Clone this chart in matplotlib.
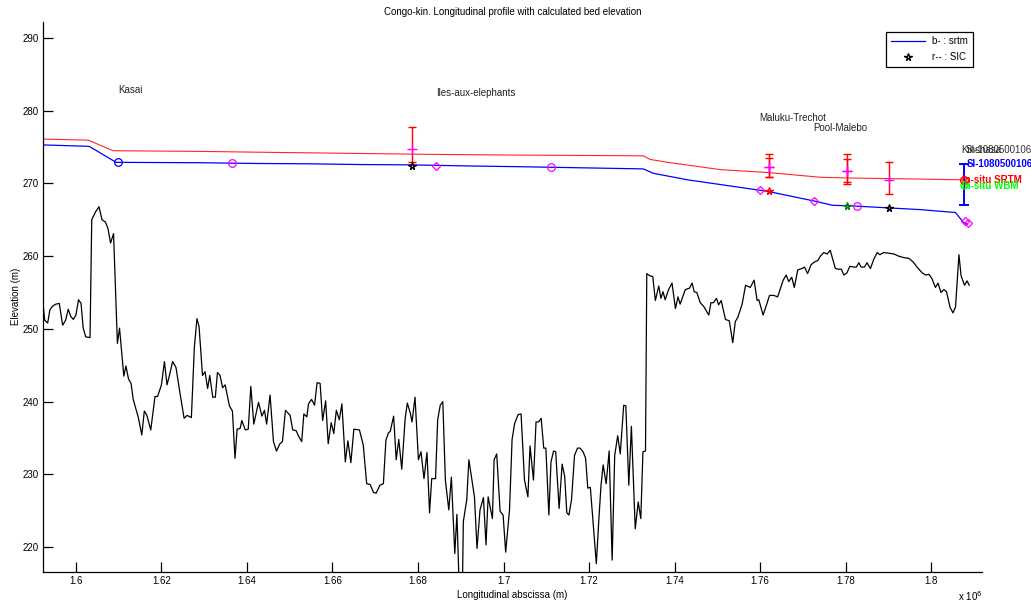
import numpy as np
import matplotlib
matplotlib.use('Agg')
import matplotlib.pyplot as plt
from matplotlib.lines import Line2D

plt.rcParams['font.family'] = ['Liberation Sans', 'DejaVu Sans']

# abscissa in units of 1e6 m, elevations in m
# calculated bed elevation (black), split in three reaches
bed_upstream = [
    (1.5923, 253.5), (1.5927, 251.2), (1.5934, 250.8), (1.5939, 252.6), (1.5945, 253.1),
    (1.5953, 253.4), (1.5961, 253.5), (1.5969, 250.5), (1.5976, 251.2), (1.5982, 252.7),
    (1.5988, 251.7), (1.5994, 251.3), (1.6000, 251.9), (1.6006, 254.0), (1.6012, 253.5),
    (1.6017, 250.1), (1.6023, 248.9), (1.6033, 248.8), (1.6037, 265.0), (1.6046, 266.1),
    (1.6054, 266.8), (1.6061, 265.0), (1.6069, 264.7), (1.6075, 263.8), (1.6081, 261.8),
    (1.6088, 263.1), (1.6097, 248.0), (1.6102, 250.1), (1.6108, 246.1), (1.6112, 243.5),
    (1.6117, 244.9), (1.6123, 243.1), (1.6129, 242.5), (1.6134, 240.3), (1.6146, 237.8),
    (1.6154, 235.4), (1.6160, 238.7), (1.6166, 238.1), (1.6175, 236.1), (1.6185, 240.7),
    (1.6191, 240.7), (1.6200, 242.3), (1.6207, 245.5), (1.6213, 242.3), (1.6220, 243.9),
    (1.6226, 245.5), (1.6234, 244.7), (1.6243, 241.3), (1.6253, 237.7), (1.6260, 238.1),
    (1.6270, 237.8), (1.6277, 247.5), (1.6283, 251.4), (1.6288, 250.3), (1.6296, 243.6),
    (1.6302, 244.1), (1.6308, 241.8), (1.6313, 243.6), (1.6320, 240.6), (1.6326, 240.6),
    (1.6331, 244.0), (1.6337, 243.6), (1.6343, 241.9), (1.6349, 242.3), (1.6359, 239.4),
    (1.6366, 238.7), (1.6372, 232.2), (1.6377, 236.2), (1.6384, 236.3), (1.6388, 237.4),
    (1.6396, 236.1), (1.6403, 236.2), (1.6409, 242.1), (1.6416, 236.9), (1.6427, 239.9),
    (1.6435, 238.0), (1.6441, 238.8), (1.6446, 236.9), (1.6454, 240.9), (1.6462, 234.5),
    (1.6469, 233.2), (1.6477, 234.2), (1.6483, 234.5), (1.6490, 238.8), (1.6501, 238.1),
    (1.6507, 236.1), (1.6515, 236.0), (1.6521, 235.2), (1.6528, 234.5), (1.6533, 238.3),
    (1.6540, 237.9), (1.6544, 239.7), (1.6551, 240.3), (1.6558, 239.5), (1.6564, 242.6),
    (1.6571, 242.5), (1.6577, 237.4), (1.6584, 240.1), (1.6590, 234.2), (1.6597, 237.1),
    (1.6603, 235.6), (1.6609, 238.8), (1.6616, 237.5), (1.6622, 239.7), (1.6630, 231.7),
    (1.6636, 234.6), (1.6643, 231.6), (1.6650, 236.2), (1.6663, 236.1),
]
bed_middle = [
    (1.6672, 234.0), (1.6680, 228.7), (1.6688, 228.6), (1.6696, 227.5), (1.6702, 227.4),
    (1.6711, 228.5), (1.6719, 228.7), (1.6725, 234.7), (1.6731, 235.7), (1.6735, 235.9),
    (1.6743, 238.0), (1.6749, 232.0), (1.6755, 234.8), (1.6762, 230.7), (1.6770, 237.7),
    (1.6775, 239.8), (1.6782, 238.4), (1.6786, 237.2), (1.6793, 240.6), (1.6801, 232.0),
    (1.6807, 233.1), (1.6814, 229.4), (1.6821, 233.0), (1.6827, 224.7), (1.6832, 229.4),
    (1.6841, 229.4), (1.6846, 237.5), (1.6852, 239.5), (1.6858, 240.0), (1.6864, 229.2),
    (1.6872, 225.1), (1.6878, 229.6), (1.6886, 219.1), (1.6891, 224.5), (1.6896, 215.0),
    (1.6904, 215.0), (1.6906, 223.5), (1.6914, 226.5), (1.6919, 232.0), (1.6926, 229.2),
    (1.6932, 226.9), (1.6938, 219.8), (1.6945, 225.1), (1.6953, 226.8), (1.6959, 220.3),
    (1.6964, 226.9), (1.6974, 223.9), (1.6978, 232.0), (1.6984, 232.8), (1.6992, 224.9),
    (1.6999, 224.4), (1.7005, 219.3), (1.7014, 225.1), (1.7020, 234.8), (1.7026, 237.0),
    (1.7034, 238.2), (1.7041, 238.3), (1.7049, 229.2), (1.7057, 226.9), (1.7062, 233.9),
    (1.7070, 229.2), (1.7076, 237.2), (1.7082, 237.2), (1.7088, 237.7), (1.7094, 233.6),
    (1.7099, 233.6), (1.7106, 224.4), (1.7111, 231.7), (1.7117, 233.2), (1.7122, 233.1),
    (1.7130, 225.3), (1.7137, 231.4), (1.7143, 229.7), (1.7148, 224.7), (1.7153, 224.4),
    (1.7159, 226.5), (1.7166, 232.6), (1.7173, 233.6), (1.7179, 233.6), (1.7186, 233.1),
    (1.7192, 232.2), (1.7197, 228.1), (1.7203, 228.2), (1.7209, 223.7), (1.7217, 217.7),
    (1.7223, 223.9), (1.7228, 228.5), (1.7233, 231.3), (1.7240, 228.7), (1.7247, 233.2),
    (1.7254, 218.2), (1.7260, 232.6), (1.7267, 235.3), (1.7273, 232.8), (1.7281, 239.5),
    (1.7286, 239.4), (1.7293, 228.5), (1.7299, 236.6), (1.7308, 222.5), (1.7315, 226.2),
    (1.7321, 223.9), (1.7326, 233.1), (1.7332, 233.2),
]
bed_downstream = [
    (1.7335, 257.6), (1.7342, 257.3), (1.7349, 257.2), (1.7355, 253.9), (1.7363, 255.9),
    (1.7368, 254.2), (1.7373, 255.1), (1.7378, 254.0), (1.7386, 255.4), (1.7394, 256.3),
    (1.7402, 252.8), (1.7408, 254.4), (1.7413, 253.4), (1.7425, 255.4), (1.7435, 255.6),
    (1.7441, 256.3), (1.7446, 255.1), (1.7452, 255.0), (1.7460, 253.6), (1.7468, 253.1),
    (1.7480, 251.9), (1.7485, 253.6), (1.7491, 253.6), (1.7498, 254.2), (1.7503, 253.3),
    (1.7509, 253.9), (1.7519, 251.3), (1.7528, 251.1), (1.7536, 248.1), (1.7542, 251.0),
    (1.7548, 251.6), (1.7558, 253.4), (1.7566, 256.0), (1.7577, 255.7), (1.7586, 256.7),
    (1.7593, 253.9), (1.7597, 254.0), (1.7607, 251.9), (1.7615, 253.3), (1.7622, 254.6),
    (1.7632, 254.6), (1.7641, 254.4), (1.7654, 256.7), (1.7661, 257.4), (1.7667, 256.5),
    (1.7674, 257.1), (1.7680, 255.7), (1.7688, 258.1), (1.7698, 258.3), (1.7704, 258.5),
    (1.7711, 257.6), (1.7719, 258.8), (1.7727, 259.2), (1.7735, 259.4), (1.7741, 260.0),
    (1.7749, 260.5), (1.7757, 260.3), (1.7764, 260.8), (1.7776, 258.3), (1.7784, 258.2),
    (1.7790, 258.2), (1.7796, 257.4), (1.7803, 257.7), (1.7810, 258.6), (1.7819, 258.5),
    (1.7825, 258.5), (1.7831, 259.1), (1.7836, 258.5), (1.7844, 258.5), (1.7850, 259.1),
    (1.7858, 258.3), (1.7866, 259.6), (1.7874, 260.5), (1.7880, 260.2), (1.7889, 260.5),
    (1.7901, 260.4), (1.7913, 260.3), (1.7924, 260.0), (1.7936, 259.8), (1.7948, 259.7),
    (1.7958, 259.2), (1.7967, 258.5), (1.7979, 257.7), (1.7987, 257.4), (1.7995, 257.5),
    (1.8002, 256.9), (1.8010, 255.7), (1.8016, 256.3), (1.8023, 255.0), (1.8030, 255.4),
    (1.8036, 255.1), (1.8044, 253.0), (1.8051, 252.2), (1.8057, 253.0), (1.8065, 260.2),
    (1.8070, 257.3), (1.8078, 256.0), (1.8084, 256.6), (1.8089, 256.0),
]

# srtm water surface (blue)
srtm_x = [1.5923, 1.6031, 1.6094, 1.6290, 1.6414, 1.6541, 1.6665, 1.6789, 1.6922,
          1.7039, 1.7327, 1.7350, 1.7430, 1.7619, 1.7725, 1.7769, 1.7818, 1.7975,
          1.8057, 1.8076, 1.8085]
srtm_z = [275.3, 275.1, 272.9, 272.85, 272.75, 272.7, 272.6, 272.55, 272.4,
          272.3, 272.0, 271.4, 270.5, 268.9, 267.6, 267.0, 266.9, 266.4,
          266.0, 264.6, 264.4]

# upper surface (red)
upper_x = [1.5923, 1.6029, 1.6087, 1.6300, 1.6420, 1.6560, 1.6690, 1.6830, 1.7039,
           1.7327, 1.7343, 1.7390, 1.7507, 1.7619, 1.7741, 1.7804, 1.7975, 1.8069, 1.8076]
upper_z = [276.1, 275.95, 274.5, 274.4, 274.3, 274.2, 274.1, 274.0, 273.9,
           273.8, 273.3, 272.85, 271.9, 271.5, 270.85, 270.75, 270.6, 270.5, 270.5]

# stations
station_names = ['Kasai', 'Iles-aux-elephants', 'Maluku-Trechot', 'Pool-Malebo', 'Kinshasa']
station_x = [1.6098, 1.6842, 1.7599, 1.7725, 1.8071]
station_z = [272.9, 272.4, 269.05, 267.6, 264.6]

diamond_x = [1.6842, 1.7599, 1.7725, 1.8080, 1.8086]
diamond_z = [272.4, 269.05, 267.6, 264.8, 264.5]
mcircle_x = [1.6365, 1.7112, 1.7827]
mcircle_z = [272.8, 272.2, 266.9]

# SIC points
sic_x = [1.6786, 1.7620, 1.7804, 1.7901]
sic_z = [272.45, 268.9, 266.9, 266.6]
sic_colors = ['k', 'r', 'g', 'k']

# red error bars with magenta centre
err_x = [1.6786, 1.7620, 1.7620, 1.7804, 1.7804, 1.7901]
err_lo = [273.0, 270.9, 270.9, 270.2, 269.9, 268.6]
err_mid = [274.7, 272.3, 272.3, 271.7, 271.7, 270.5]
err_hi = [277.8, 274.1, 273.5, 274.0, 273.3, 272.9]

# in-situ gauge at the downstream end
gauge_x = 1.8076
gauge_lo, gauge_hi = 267.0, 272.7
gauge_srtm = 270.5
gauge_wbm = 269.8

fig = plt.figure(figsize=(10.31, 6.05), dpi=100)
ax = fig.add_axes([0.0417, 0.055, 0.9108, 0.9086])

bed = bed_upstream + bed_middle + bed_downstream
ax.plot([p[0] for p in bed], [p[1] for p in bed], color='black', lw=0.9)

srtm_line, = ax.plot(srtm_x, srtm_z, color='blue', lw=0.9)
ax.plot(upper_x, upper_z, color='red', lw=0.8, alpha=0.85)

mid = np.array(err_mid)
ax.errorbar(err_x, mid, yerr=[mid - np.array(err_lo), np.array(err_hi) - mid],
            fmt='none', ecolor='red', elinewidth=1.0, capsize=3, capthick=1.0)
ax.plot(err_x, err_mid, '+', color='magenta', ms=7, mew=1.0)

ax.plot(station_x[0], station_z[0], 'o', mfc='none', mec='blue', ms=5.5, mew=0.9)
ax.plot(mcircle_x, mcircle_z, 'o', mfc='none', mec='magenta', ms=5.5, mew=0.9)
ax.plot(diamond_x, diamond_z, 'D', mfc='none', mec='magenta', ms=4.5, mew=0.9)

for xs, zs, c in zip(sic_x, sic_z, sic_colors):
    ax.plot(xs, zs, '*', mfc='none', mec=c, ms=5.5, mew=1.0)

# downstream gauge
ax.errorbar([gauge_x], [(gauge_lo + gauge_hi) / 2], yerr=[(gauge_hi - gauge_lo) / 2],
            fmt='none', ecolor='blue', elinewidth=1.4, capsize=3.5, capthick=1.4)
ax.plot(gauge_x, gauge_wbm, 'o', mfc='none', mec='lime', ms=5, mew=1.0)
ax.plot(gauge_x, gauge_srtm, 'o', mfc='none', mec='red', ms=5.5, mew=1.0)

for name, xs, zs in zip(station_names, station_x, station_z):
    ax.text(xs, zs + 10, name, fontsize=7, ha='left', va='center', color='#222222')

ax.text(gauge_x + 0.0004, station_z[-1] + 10, 'SI-1080500106', fontsize=7, ha='left',
        va='center', color='#333333')
ax.text(gauge_x + 0.0007, gauge_hi, 'SI-1080500106', fontsize=7, ha='left', va='center',
        color='blue', fontweight='bold')
ax.text(gauge_x - 0.0005, gauge_srtm, 'In-situ SRTM', fontsize=7, ha='left', va='center',
        color='red', fontweight='bold')
ax.text(gauge_x - 0.0005, gauge_wbm - 0.2, 'In-situ WBM', fontsize=7, ha='left', va='center',
        color='lime', fontweight='bold')

ax.set_xlim(1.5923, 1.8119)
ax.set_ylim(216.6, 292.2)
xticks = [1.6, 1.62, 1.64, 1.66, 1.68, 1.7, 1.72, 1.74, 1.76, 1.78, 1.8]
xtick_labels = ['1.6', '1.62', '1.64', '1.66', '1.68', '1.7', '1.72', '1.74', '1.76', '1.78', '1.8']
ax.set_xticks(xticks)
ax.set_xticklabels(xtick_labels)
ax.set_yticks(np.arange(220, 291, 10))

ax.spines['top'].set_visible(False)
ax.spines['right'].set_visible(False)
for s in ['left', 'bottom']:
    ax.spines[s].set_linewidth(0.9)
ax.tick_params(direction='in', length=7, width=0.9, labelsize=7, pad=3,
               top=False, right=False)

ax.set_title('Congo-kin. Longitudinal profile with calculated bed elevation', fontsize=7, pad=5)
ax.set_xlabel('Longitudinal abscissa (m)', fontsize=7, labelpad=3)
ax.set_ylabel('Elevation (m)', fontsize=7, labelpad=1)
fig.text(0.929, 0.006, r'x 10$^{6}$', fontsize=7)

leg_line = Line2D([], [], color='blue', lw=0.9)
leg_star = Line2D([], [], ls='none', marker='*', mfc='none', mec='black', ms=5.5, mew=1.0)
leg = ax.legend([leg_line, leg_star], ['b- : srtm', 'r-- : SIC'], loc='upper right',
                bbox_to_anchor=(0.9957, 0.9914), fontsize=7, fancybox=False,
                edgecolor='black', framealpha=1, handlelength=3.5, borderpad=0.5,
                labelspacing=0.6)
leg.get_frame().set_linewidth(0.9)

fig.savefig('out.png', dpi=100)
